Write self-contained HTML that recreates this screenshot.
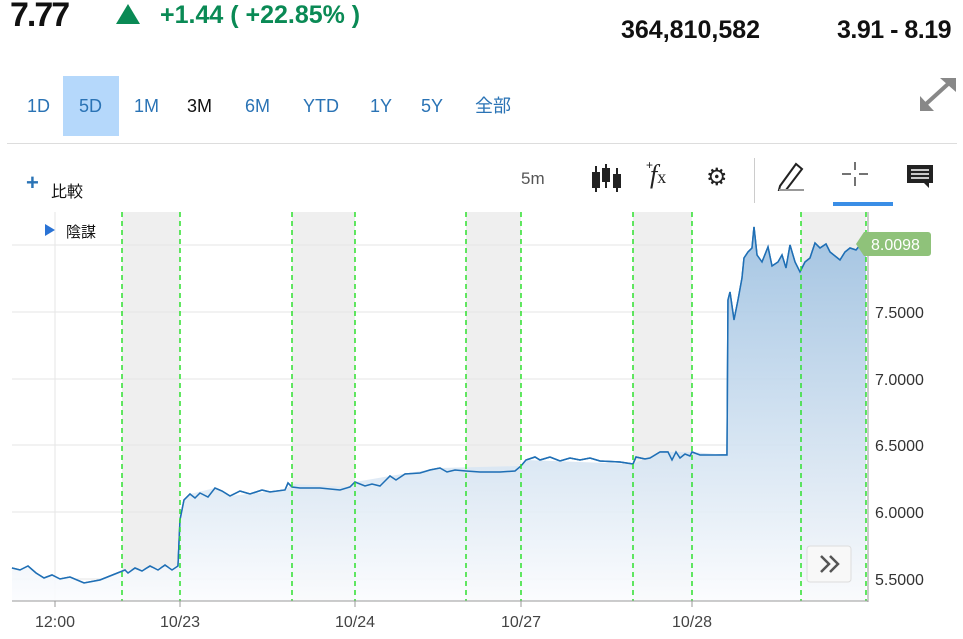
<!DOCTYPE html><html><head><meta charset="utf-8"><style>
body{margin:0;width:963px;height:639px;background:#fff;font-family:"Liberation Sans","Noto Sans CJK JP",sans-serif;position:relative;overflow:hidden}
.a{position:absolute;white-space:nowrap}
.r{color:#2a73b5;font-size:18px;top:95px;line-height:22px}
</style></head><body>
<div class="a" style="left:10px;top:-4px;font-size:34px;font-weight:bold;letter-spacing:-2px;color:#111">7.77</div>
<div class="a" style="left:116px;top:4px;width:0;height:0;border-left:12px solid transparent;border-right:12px solid transparent;border-bottom:20px solid #0a8a55"></div>
<div class="a" style="left:160px;top:1px;font-size:25px;font-weight:bold;color:#0a8a55">+1.44 ( +22.85% )</div>
<div class="a" style="left:621px;top:16px;font-size:25px;font-weight:bold;color:#111">364,810,582</div>
<div class="a" style="left:837px;top:16px;font-size:25px;font-weight:bold;color:#111;letter-spacing:-0.5px">3.91 - 8.19</div>
<div class="a" style="left:63px;top:76px;width:56px;height:60px;background:#b5d8fb"></div>
<div class="a r" style="left:27px">1D</div><div class="a r" style="left:79px">5D</div><div class="a r" style="left:134px">1M</div>
<div class="a r" style="left:187px;color:#111">3M</div><div class="a r" style="left:245px">6M</div><div class="a r" style="left:303px">YTD</div>
<div class="a r" style="left:370px">1Y</div><div class="a r" style="left:421px">5Y</div><div class="a r" style="left:475px">全部</div>
<svg class="a" style="left:918px;top:76px" width="40" height="36"><g stroke="#888" stroke-width="4" fill="#888"><line x1="8" y1="28" x2="30" y2="8"/></g><polygon points="22,2 38,2 38,16" fill="#888"/><polygon points="2,20 2,35 16,35" fill="#888"/></svg>
<div class="a" style="left:7px;top:143px;width:950px;height:1px;background:#ddd"></div>
<div class="a" style="left:26px;top:170px;font-size:22px;font-weight:bold;color:#2a73b5">+</div>
<div class="a" style="left:51px;top:178px;font-size:16px;color:#111">比較</div>
<div class="a" style="left:521px;top:169px;font-size:17px;color:#555">5m</div>
<svg class="a" style="left:590px;top:162px" width="34" height="32"><g stroke="#222" stroke-width="2"><line x1="6" y1="4" x2="6" y2="30"/><line x1="16" y1="2" x2="16" y2="26"/><line x1="27" y1="6" x2="27" y2="30"/></g><rect x="2" y="10" width="8" height="16" fill="#222"/><rect x="12" y="6" width="8" height="14" fill="#222"/><rect x="23" y="12" width="8" height="14" fill="#222"/></svg>
<div class="a" style="left:646px;top:158px;font-size:12px;color:#222">+</div>
<div class="a" style="left:650px;top:160px;font-size:26px;font-style:italic;font-family:'Liberation Serif',serif;color:#222">f<span style="font-size:18px;font-style:normal">x</span></div>
<div class="a" style="left:706px;top:163px;font-size:24px;color:#222">⚙</div>
<div class="a" style="left:754px;top:158px;width:1px;height:45px;background:#ccc"></div>
<svg class="a" style="left:776px;top:160px" width="32" height="32"><path d="M4 26 L20 4 L26 9 L10 30 L3 30Z" fill="none" stroke="#222" stroke-width="2"/><line x1="3" y1="30" x2="28" y2="30" stroke="#999" stroke-width="2"/></svg>
<svg class="a" style="left:840px;top:160px" width="30" height="30"><g stroke="#444" stroke-width="1.5"><line x1="15" y1="2" x2="15" y2="10"/><line x1="15" y1="17" x2="15" y2="26"/><line x1="2" y1="14" x2="11" y2="14"/><line x1="19" y1="14" x2="28" y2="14"/></g></svg>
<div class="a" style="left:833px;top:202px;width:60px;height:4px;background:#3a8ee6"></div>
<svg class="a" style="left:905px;top:163px" width="30" height="28"><path d="M2 2H28V20H24V25L19 20H2Z" fill="#222"/><g stroke="#fff" stroke-width="1.5"><line x1="6" y1="7" x2="24" y2="7"/><line x1="6" y1="11" x2="24" y2="11"/><line x1="6" y1="15" x2="24" y2="15"/></g></svg>
<svg class="a" style="left:0;top:0" width="963" height="639">
<defs><linearGradient id="g" x1="0" y1="0" x2="0" y2="1"><stop offset="0" stop-color="#9bbfe0"/><stop offset="1" stop-color="#fbfcfe"/></linearGradient></defs>
<g fill="#efefef"><rect x="122" y="212" width="58" height="389"/><rect x="292" y="212" width="63" height="389"/><rect x="466" y="212" width="55" height="389"/><rect x="633" y="212" width="59" height="389"/><rect x="801" y="212" width="65" height="389"/></g>
<g stroke="#e6e6e6" stroke-width="1"><line x1="12" y1="245" x2="866" y2="245"/><line x1="12" y1="312" x2="866" y2="312"/><line x1="12" y1="379" x2="866" y2="379"/><line x1="12" y1="445" x2="866" y2="445"/><line x1="12" y1="512" x2="866" y2="512"/><line x1="12" y1="579" x2="866" y2="579"/><line x1="55" y1="212" x2="55" y2="601"/></g>
<path id="p" d="M12,568 L20,570 L28,566 L36,573 L44,578 L52,575 L60,579 L70,577 L84,583 L100,580 L115,574 L125,570 L128,573 L135,568 L142,571 L150,566 L158,570 L165,565 L172,570 L178,566 L180,520 L184,500 L190,494 L195,498 L200,493 L208,497 L215,488 L222,491 L230,496 L240,491 L250,494 L262,490 L270,492 L285,490 L288,483 L292,487 L300,488 L320,488 L340,490 L350,487 L355,482 L365,486 L372,484 L380,486 L390,476 L396,480 L405,474 L420,473 L430,470 L440,468 L447,472 L455,470 L466,471 L480,472 L500,472 L515,471 L521,466 L526,460 L535,457 L540,460 L550,457 L560,461 L570,458 L580,460 L590,458 L600,461 L620,462 L633,464 L636,457 L645,459 L650,458 L660,452 L668,452 L672,460 L676,452 L680,458 L685,454 L690,456 L692,452 L700,455 L710,455 L727,455 L728,300 L730,292 L734,320 L738,300 L742,278 L744,258 L748,252 L752,248 L754,227 L757,255 L762,262 L768,247 L772,266 L778,262 L782,255 L786,268 L790,245 L795,262 L800,272 L805,262 L810,258 L815,243 L820,248 L826,244 L830,252 L840,260 L845,252 L850,248 L856,250 L861,244 L866,244" fill="none" stroke="#1f6fb5" stroke-width="1.5"/>
<path d="M12,568 L20,570 L28,566 L36,573 L44,578 L52,575 L60,579 L70,577 L84,583 L100,580 L115,574 L125,570 L178,566 L180,520 L184,500 L190,494 L215,488 L230,496 L285,490 L292,484 L350,487 L355,482 L390,476 L440,468 L521,466 L526,460 L633,464 L660,452 L692,452 L727,455 L728,300 L730,292 L734,320 L738,300 L742,278 L744,258 L748,252 L752,248 L754,227 L757,255 L762,262 L768,247 L772,266 L778,262 L782,255 L786,268 L790,245 L795,262 L800,272 L805,262 L810,258 L815,243 L820,248 L826,244 L830,252 L840,260 L845,252 L850,248 L856,250 L861,244 L866,244 L866,601 L12,601 Z" fill="url(#g)" opacity="0.9"/>
<use href="#p"/>
<g stroke="#2ee02e" stroke-width="1.5" stroke-dasharray="5,4"><line x1="122" y1="212" x2="122" y2="601"/><line x1="180" y1="212" x2="180" y2="601"/><line x1="292" y1="212" x2="292" y2="601"/><line x1="355" y1="212" x2="355" y2="601"/><line x1="466" y1="212" x2="466" y2="601"/><line x1="521" y1="212" x2="521" y2="601"/><line x1="633" y1="212" x2="633" y2="601"/><line x1="692" y1="212" x2="692" y2="601"/><line x1="801" y1="212" x2="801" y2="601"/><line x1="866" y1="212" x2="866" y2="601"/></g>
<line x1="12" y1="601" x2="868" y2="601" stroke="#999"/><line x1="868" y1="212" x2="868" y2="602" stroke="#999"/>
<g stroke="#999"><line x1="55" y1="601" x2="55" y2="607"/><line x1="180" y1="601" x2="180" y2="607"/><line x1="355" y1="601" x2="355" y2="607"/><line x1="521" y1="601" x2="521" y2="607"/><line x1="692" y1="601" x2="692" y2="607"/></g>
<g font-family="Liberation Sans,sans-serif" font-size="16" fill="#444" text-anchor="middle"><text x="55" y="627">12:00</text><text x="180" y="627">10/23</text><text x="355" y="627">10/24</text><text x="521" y="627">10/27</text><text x="692" y="627">10/28</text></g>
<g font-family="Liberation Sans,sans-serif" font-size="16" fill="#333"><text x="875" y="318">7.5000</text><text x="875" y="385">7.0000</text><text x="875" y="451">6.5000</text><text x="875" y="518">6.0000</text><text x="875" y="585">5.5000</text></g>
<path d="M856,244 L864,232 H928 a3,3 0 0 1 3,3 V253 a3,3 0 0 1 -3,3 H864Z" fill="#8fc27a"/>
<text x="871" y="250" font-family="Liberation Sans,sans-serif" font-size="16" fill="#fff">8.0098</text>
<rect x="807" y="546" width="44" height="36" rx="3" fill="#f8f8f8" stroke="#ddd"/>
<path d="M821,556 L829,564 L821,572 M830,556 L838,564 L830,572" fill="none" stroke="#555" stroke-width="2.5"/>
<polygon points="45,224 55,230 45,236" fill="#2a73d5"/>
<text x="66" y="237" font-family="Liberation Sans,Noto Sans CJK JP,sans-serif" font-size="15" fill="#111">陰謀</text>
</svg>
</body></html>
